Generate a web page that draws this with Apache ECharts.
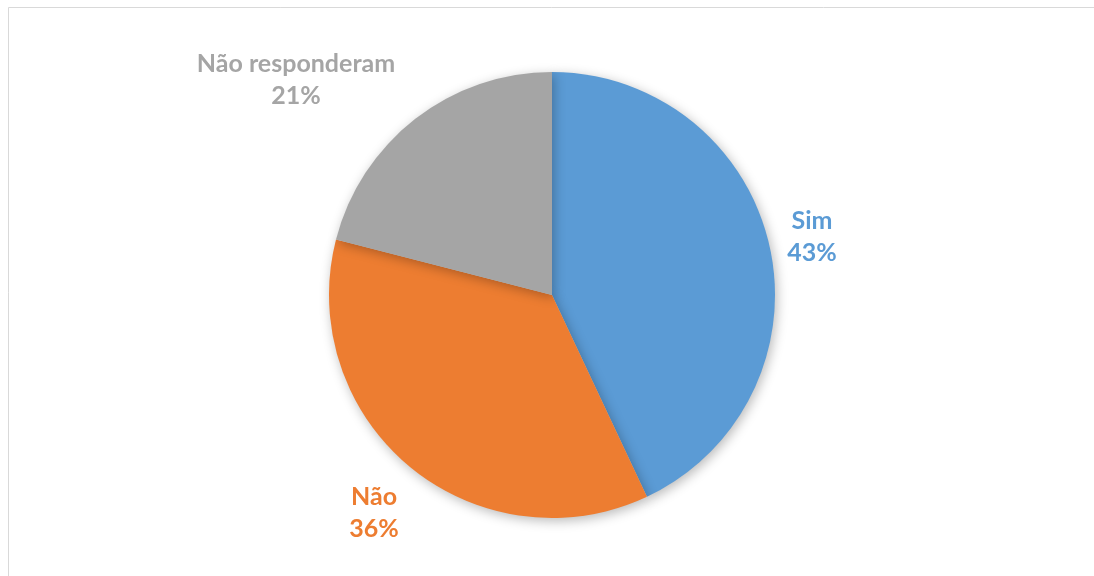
<!DOCTYPE html>
<html>
<head>
<meta charset="utf-8">
<script src="https://cdn.jsdelivr.net/npm/echarts@6/dist/echarts.min.js"></script>
<style>
  html, body { margin: 0; padding: 0; background: #ffffff; }
  #chart { width: 1094px; height: 576px; }
</style>
</head>
<body>
<div id="chart"></div>
<script>
// Survey answers (share of respondents, %)
const categories = ['Sim', 'Não', 'Não responderam'];
const values = [43, 36, 21];
const colors = ['#5B9BD5', '#ED7D31', '#A5A5A5'];

// Label anchor points (centre of each two-line label)
const labelSpots = [
  [812, 237],
  [374, 513],
  [296, 80]
];

const chart = echarts.init(document.getElementById('chart'), null, { renderer: 'canvas' });

chart.setOption({
  backgroundColor: '#ffffff',
  animation: false,
  graphic: [{
    type: 'rect',
    shape: { x: 8.5, y: 7.5, width: 1200, height: 700 },
    style: { fill: 'none', stroke: '#d9d9d9', lineWidth: 1 },
    silent: true
  }],
  series: [{
    type: 'pie',
    center: [552, 295],
    radius: [0, 223],
    startAngle: 90,
    clockwise: true,
    data: categories.map((name, i) => ({
      name: name,
      value: values[i],
      itemStyle: { color: colors[i] },
      label: { color: colors[i] }
    })),
    itemStyle: {
      borderWidth: 0,
      shadowBlur: 12,
      shadowColor: 'rgba(0,0,0,0.28)',
      shadowOffsetX: 2,
      shadowOffsetY: 3
    },
    label: {
      show: true,
      position: 'outside',
      formatter: p => p.name + '\n' + p.value + '%',
      fontFamily: 'Lato',
      fontWeight: 'bold',
      fontSize: 25,
      lineHeight: 32,
      align: 'center'
    },
    labelLine: { show: false },
    labelLayout: params => ({
      x: labelSpots[params.dataIndex][0],
      y: labelSpots[params.dataIndex][1],
      align: 'center',
      verticalAlign: 'middle'
    }),
    emphasis: { disabled: true }
  }]
});
</script>
</body>
</html>
